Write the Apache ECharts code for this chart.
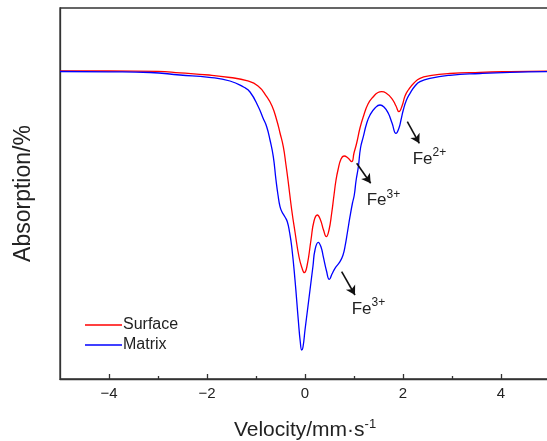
<!DOCTYPE html>
<html>
<head>
<meta charset="utf-8">
<script src="https://cdn.jsdelivr.net/npm/echarts@6/dist/echarts.min.js"></script>
<style>html,body{margin:0;padding:0;background:#fff;}#c{width:547px;height:441px;}</style>
</head>
<body>
<div id="c"></div>
<script>
// Velocity (mm/s) and relative transmission (%)
const surfaceV = [-5,-4,-3,-2.551,-1.959,-1.531,-1.19,-0.959,-0.782,-0.673,-0.578,-0.51,-0.443,-0.388,-0.347,-0.271,-0.204,-0.122,-0.061,-0.014,0.041,0.122,0.184,0.251,0.316,0.378,0.435,0.49,0.545,0.592,0.633,0.673,0.735,0.796,0.878,0.953,1.0,1.055,1.122,1.19,1.286,1.394,1.49,1.565,1.653,1.769,1.857,1.918,1.98,2.041,2.108,2.224,2.347,2.551,2.959,3.571,4.184,5];
const surfaceT = [100,100,99.97,99.82,99.6,99.35,99.03,98.5,97.43,96.5,95.1,93.8,92.43,90.6,89.1,86.1,83.9,81.4,80.3,79.83,80.5,83.1,85.0,85.6,85.1,84.1,83.43,84.1,85.8,87.6,89.1,90.1,91.2,91.5,91.3,90.93,91.8,92.8,94.3,95.43,96.7,97.43,97.85,97.93,97.8,97.27,96.5,95.93,96.5,97.5,98.1,98.8,99.27,99.53,99.75,99.87,99.94,100];
const matrixV = [-5,-4,-3.163,-2.551,-1.959,-1.531,-1.245,-1.122,-0.953,-0.857,-0.782,-0.714,-0.647,-0.592,-0.551,-0.51,-0.469,-0.408,-0.361,-0.316,-0.271,-0.204,-0.137,-0.096,-0.067,-0.041,0.0,0.051,0.102,0.163,0.204,0.271,0.327,0.373,0.439,0.496,0.551,0.612,0.714,0.776,0.816,0.867,0.918,0.969,1.006,1.041,1.088,1.133,1.19,1.255,1.327,1.429,1.531,1.612,1.7,1.776,1.857,1.918,1.959,2.006,2.071,2.143,2.245,2.347,2.551,2.959,3.571,4.184,5];
const matrixT = [99.95,99.92,99.85,99.6,99.37,99.0,98.37,97.9,96.43,95.3,94.43,93.1,91.43,89.1,87.6,86.43,85.9,85.4,84.93,83.9,82.43,79.1,75.1,72.9,72.1,72.4,74.1,76.1,78.1,80.5,82.1,82.87,82.4,81.43,80.0,79.17,79.7,80.27,80.93,81.6,82.43,83.9,85.43,86.8,87.6,89.0,90.4,92.3,93.43,94.7,95.6,96.3,96.6,96.4,95.77,94.8,93.77,94.3,95.1,96.1,97.1,97.77,98.5,98.93,99.27,99.57,99.75,99.87,99.95];
const majorTicks = [-4,-2,0,2,4];
const minorTicks = [-3,-1,1,3];
const seriesNames = ['Surface','Matrix'];
// annotation arrows [from, to] and labels in data coordinates
const arrows = [
  [[2.088,94.93],[2.333,92.77]],
  [[1.055,90.77],[1.340,88.77]],
  [[0.748,79.93],[1.020,77.6]]
];
const labels = [
  {base:'Fe', sup:'2+', at:[2.198,91.2]},
  {base:'Fe', sup:'3+', at:[1.259,87.03]},
  {base:'Fe', sup:'3+', at:[0.953,76.2]}
];

const zip = (a,b)=>a.map((v,i)=>[v,b[i]]);
const FONT = 'Liberation Sans, Arial, sans-serif';
const chart = echarts.init(document.getElementById('c'));
const axisColor = '#333';
const option = {
  animation:false,
  grid:{left:60, right:-3, top:8, bottom:62, show:true, borderColor:axisColor, borderWidth:1.3, backgroundColor:'transparent', outerBoundsMode:'none', containLabel:false},
  legend:{
    data:seriesNames.map(n=>({name:n, icon:'rect'})), orient:'vertical', left:80, top:312, itemWidth:37, itemHeight:1.5, itemGap:4,
    textStyle:{fontFamily:FONT, fontSize:16, color:'#222', padding:[0,0,0,-4]}
  },
  xAxis:[{
    type:'value', min:-5, max:5, interval:1,
    name:'{a|Velocity/mm·s}{s|-1}', nameLocation:'middle', nameGap:39,
    nameTextStyle:{fontFamily:FONT, color:'#222', rich:{a:{fontSize:21, fontFamily:FONT, color:'#222'}, s:{fontSize:13, fontFamily:FONT, color:'#222', padding:[0,0,12,0]}}},
    axisLine:{show:true, onZero:false, lineStyle:{color:axisColor, width:1.3}},
    axisTick:{show:true, inside:true, length:5, customValues:majorTicks, lineStyle:{color:axisColor, width:1.3}},
    axisLabel:{show:true, customValues:majorTicks, margin:7, fontFamily:FONT, fontSize:15, color:'#222', formatter:v=>String(v).replace('-','\u2212')},
    splitLine:{show:false}
  },{
    type:'value', min:-5, max:5, interval:1, position:'bottom',
    axisLine:{show:false, onZero:false}, axisLabel:{show:false}, splitLine:{show:false},
    axisTick:{show:true, inside:true, length:3, customValues:minorTicks, lineStyle:{color:axisColor, width:1.3}}
  }],
  yAxis:{
    type:'value', min:69.2, max:106.3,
    name:'Absorption/%', nameLocation:'middle', nameGap:25,
    nameTextStyle:{fontFamily:FONT, fontSize:23, color:'#222'},
    axisLine:{show:true, onZero:false, lineStyle:{color:axisColor, width:1.3}},
    axisTick:{show:false}, axisLabel:{show:false}, splitLine:{show:false}
  },
  series:[
    {name:seriesNames[0], type:'line', data:zip(surfaceV,surfaceT), symbol:'none', smooth:0.5,
     lineStyle:{color:'#ff0000', width:1.3}, itemStyle:{color:'#ff0000'}},
    {name:seriesNames[1], type:'line', data:zip(matrixV,matrixT), symbol:'none', smooth:0.5,
     lineStyle:{color:'#0000ff', width:1.3}, itemStyle:{color:'#0000ff'},
     markLine:{silent:true, symbol:['none','arrow'], symbolSize:[8,9], label:{show:false},
       lineStyle:{color:'#111', width:1.6, type:'solid'},
       data:arrows.map(a=>[{coord:a[0]},{coord:a[1]}])}}
  ]
};
chart.setOption(option);
const g = [];
labels.forEach(l=>{
  const p = chart.convertToPixel({xAxisIndex:0, yAxisIndex:0}, l.at);
  g.push({type:'text', x:p[0], y:p[1], style:{text:l.base, fontFamily:FONT, fontSize:17, fill:'#222', verticalAlign:'middle', align:'left'}});
  g.push({type:'text', x:p[0]+19.8, y:p[1]-6, style:{text:l.sup, fontFamily:FONT, fontSize:12, fill:'#222', verticalAlign:'middle', align:'left'}});
});
chart.setOption({graphic:g});
</script>
</body>
</html>
